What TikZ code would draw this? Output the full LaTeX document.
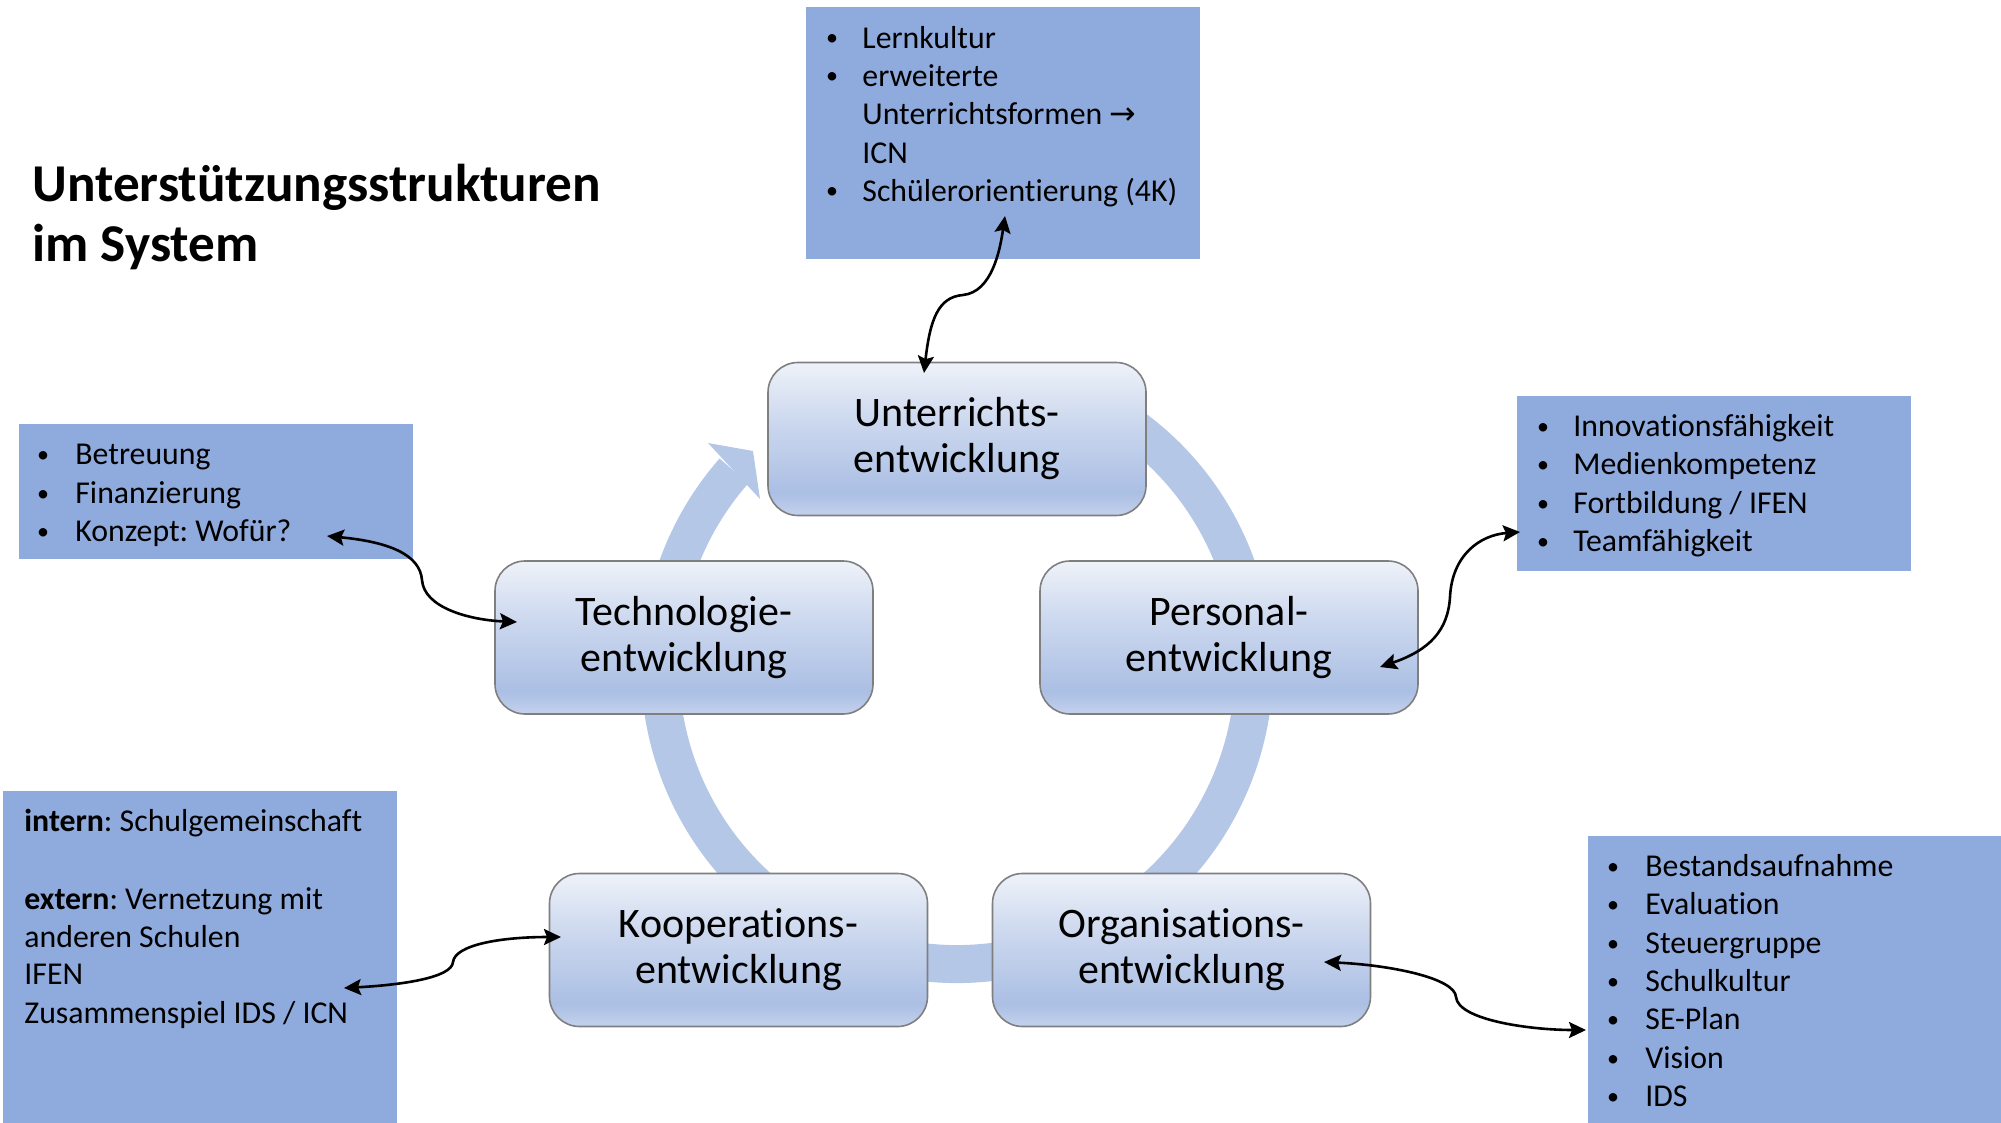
\documentclass[tikz,border=0pt]{standalone}
\usepackage{fontspec}
\setmainfont{Carlito}[RawFeature=-liga]
\newfontfamily\symfont{DejaVu Sans}
\usetikzlibrary{arrows.meta}
\definecolor{listfill}{HTML}{8FAADC}
\definecolor{ringcol}{HTML}{B4C7E7}
\definecolor{nodeborder}{HTML}{7F7F7F}
\definecolor{nbA}{HTML}{C3D1EC}
\definecolor{nbB}{HTML}{ABBFE4}
\definecolor{nbC}{HTML}{CBD7EE}
\definecolor{nbD}{HTML}{EEF2F9}
\pgfdeclareverticalshading{nodeshade}{100bp}{color(0bp)=(nbA); color(25bp)=(nbA); color(32.5bp)=(nbB); color(55bp)=(nbC); color(75bp)=(nbD); color(100bp)=(nbD)}
\frenchspacing
\tikzset{
  stage/.style={draw=nodeborder, line width=0.8pt, rounded corners=15pt, shading=nodeshade,
    minimum width=189pt, minimum height=76.5pt, inner sep=0pt, align=center,
    font=\fontsize{21}{23}\selectfont},
  listbox/.style={fill=listfill, draw=none, inner sep=0pt, anchor=north west},
  item/.style={anchor=base west, inner sep=0pt, yshift=-0.7pt, font=\fontsize{15.9}{19}\selectfont},
  bul/.style={anchor=base, inner sep=0pt, yshift=-0.7pt, font=\fontsize{12}{14}\selectfont},
  conn/.style={>={Stealth[length=8.5pt,width=8pt,inset=1.5pt]}, <->, line width=1.3pt, black},
  titletext/.style={anchor=base west, inner sep=0pt, font=\bfseries\fontsize{26.6}{30}\selectfont}
}
\newcommand{\bdot}{\raisebox{1.2pt}{•}}
\begin{document}
\begin{tikzpicture}[x=0.5pt,y=-0.5pt]
\useasboundingbox (0,0) rectangle (2001,1123);

% title
\node[titletext] (title1) at (32,202) {Unterstützungsstrukturen};
\node[titletext] (title2) at (32,262) {im System};

% ring
\coordinate (ringc) at (957,667);
\draw[ringcol, line width=19pt] (ringc) ++(-65:297) arc[start angle=-65, end angle=221.3, radius=297];
\fill[ringcol] (708,443) -- (753,451) -- (760,499) -- cycle;

% stage nodes
\node[stage] (U) at (957,439) {Unterrichts-\\entwicklung};
\node[stage] (T) at (684,637.5) {Technologie-\\entwicklung};
\node[stage] (P) at (1229,637.5) {Personal-\\entwicklung};
\node[stage] (K) at (738.5,950) {Kooperations-\\entwicklung};
\node[stage] (O) at (1181.5,950) {Organisations-\\entwicklung};

% list boxes
\node[listbox, minimum width=197pt, minimum height=126pt] (boxU) at (806,7) {};
\node[listbox, minimum width=197pt, minimum height=67.5pt] (boxT) at (19,424) {};
\node[listbox, minimum width=197pt, minimum height=87.5pt] (boxP) at (1517,396) {};
\node[listbox, minimum width=197pt, minimum height=166pt] (boxK) at (3,791) {};
\node[listbox, minimum width=206.5pt, minimum height=143.5pt] (boxO) at (1588,836) {};

% top box text
\node[bul] (bU1) at (832,47) {\bdot};
\node[item] (tU1) at (862,47) {Lernkultur};
\node[bul] (bU2) at (832,85) {\bdot};
\node[item] (tU2) at (862,85) {erweiterte};
\node[item] (tU3) at (862,123) {Unterrichtsformen {\symfont →}};
\node[item] (tU4) at (862,162) {ICN};
\node[bul] (bU5) at (832,200) {\bdot};
\node[item] (tU5) at (862,200) {Schülerorientierung (4K)};

% Betreuung box
\foreach \yy/\tt [count=\i] in {463/Betreuung, 502/Finanzierung, 540/{Konzept: Wofür?}} {
  \node[bul] (bT\i) at (43,\yy) {\bdot};
  \node[item] (tT\i) at (75,\yy) {\tt};
}

% Personal box
\foreach \yy/\tt [count=\i] in {435/Innovationsfähigkeit, 473/Medienkompetenz, 512/{Fortbildung / IFEN}, 550/Teamfähigkeit} {
  \node[bul] (bP\i) at (1543,\yy) {\bdot};
  \node[item] (tP\i) at (1573,\yy) {\tt};
}

% Organisation box
\foreach \yy/\tt [count=\i] in {875/Bestandsaufnahme, 913/Evaluation, 952/Steuergruppe, 990/Schulkultur, 1028/SE-Plan, 1067/Vision, 1105/IDS} {
  \node[bul] (bO\i) at (1613,\yy) {\bdot};
  \node[item] (tO\i) at (1645,\yy) {\tt};
}

% Kooperation box
\node[item] (tK1) at (24,830) {\textbf{intern}: Schulgemeinschaft};
\node[item] (tK2) at (24,908) {\textbf{extern}: Vernetzung mit};
\node[item] (tK3) at (24,946) {anderen Schulen};
\node[item] (tK4) at (24,983) {IFEN};
\node[item] (tK5) at (24,1022) {Zusammenspiel IDS / ICN};

% connector end points
\coordinate (cU1) at (924,373);
\coordinate (cU2) at (963,295);
\coordinate (cU3) at (1005,216);
\coordinate (cT1) at (327,536);
\coordinate (cT2) at (422,580);
\coordinate (cT3) at (517,622);
\coordinate (cP1) at (1380,667);
\coordinate (cP2) at (1450,597);
\coordinate (cP3) at (1520,532);
\coordinate (cK1) at (344,988);
\coordinate (cK2) at (453,962);
\coordinate (cK3) at (561,937);
\coordinate (cO1) at (1324,962);
\coordinate (cO2) at (1456,997);
\coordinate (cO3) at (1586,1030);

\draw[conn] (cU1) .. controls (930,320) and (938,297) .. (cU2) .. controls (992,292) and (1000,250) .. (cU3);
\draw[conn] (cT1) .. controls (390,542) and (420,555) .. (cT2) .. controls (424,608) and (470,620) .. (cT3);
\draw[conn] (cP1) .. controls (1430,650) and (1448,630) .. (cP2) .. controls (1452,555) and (1480,535) .. (cP3);
\draw[conn] (cK1) .. controls (400,985) and (452,978) .. (cK2) .. controls (455,945) and (500,937) .. (cK3);
\draw[conn] (cO1) .. controls (1390,965) and (1455,978) .. (cO2) .. controls (1458,1020) and (1530,1030) .. (cO3);
\end{tikzpicture}
\end{document}
